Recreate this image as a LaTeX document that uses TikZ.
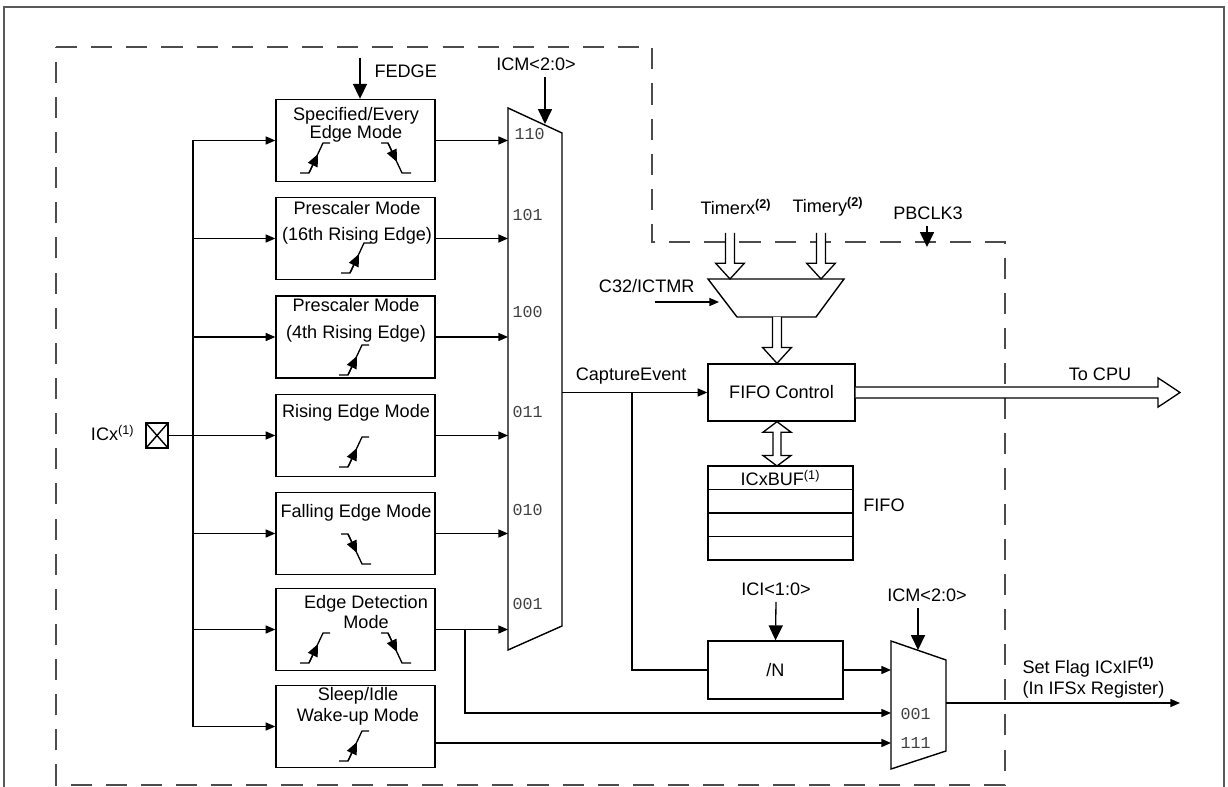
\documentclass[tikz,border=0pt]{standalone}
\usepackage{fontspec}
\setmainfont{Liberation Sans}
\setmonofont{Liberation Mono}
\usetikzlibrary{arrows.meta, positioning, calc}

% hollow bus arrows (vertical down, right, both ways)
\newcommand{\fatdown}[2]{%
  \draw[bus] let \p1=(#1), \p2=(#2) in
    (\x1-2.6pt,\y1) -- (\x1-2.6pt,\y2+9pt) -- (\x1-8.2pt,\y2+9pt) -- (\x1,\y2)
    -- (\x1+8.2pt,\y2+9pt) -- (\x1+2.6pt,\y2+9pt) -- (\x1+2.6pt,\y1);}
\newcommand{\fatright}[2]{%
  \draw[bus] let \p1=(#1), \p2=(#2) in
    (\x1,\y1+3.1pt) -- (\x2-12.5pt,\y1+3.1pt) -- (\x2-12.5pt,\y1+8.3pt) -- (\x2,\y1)
    -- (\x2-12.5pt,\y1-8.3pt) -- (\x2-12.5pt,\y1-3.1pt) -- (\x1,\y1-3.1pt);}
\newcommand{\fatboth}[2]{%
  \draw[bus] let \p1=(#1), \p2=(#2) in
    (\x1-2.3pt,\y1-6pt) -- (\x1-8pt,\y1-6pt) -- (\x1,\y1) -- (\x1+8pt,\y1-6pt)
    -- (\x1+2.3pt,\y1-6pt) -- (\x1+2.3pt,\y2+6pt) -- (\x1+8pt,\y2+6pt) -- (\x1,\y2)
    -- (\x1-8pt,\y2+6pt) -- (\x1-2.3pt,\y2+6pt) -- cycle;}

\tikzset{
  pics/upedge/.style={code={
    \draw (-16,15) -- (-7,15) -- (7,-15) -- (14,-15);
    \draw[-{Triangle[length=7pt, width=6pt]}] (-7,15) -- (2,-4);
  }},
  pics/downedge/.style={code={
    \draw (-14,-15) -- (-7,-15) -- (7,15) -- (16,15);
    \draw[-{Triangle[length=7pt, width=6pt]}] (-7,-15) -- (2,4);
  }}
}

\begin{document}
\begin{tikzpicture}[
    x=0.02cm, y=-0.02cm,
    font=\fontsize{10.3}{12}\selectfont,
    line width=0.75pt,
    sig/.style   = {-{Triangle[length=5.5pt, width=4.6pt]}},
    ctl/.style   = {-{Triangle[length=8.5pt, width=8pt]}},
    mode/.style  = {draw, line width=0.8pt, minimum width=3.18cm, minimum height=1.64cm, inner sep=0pt},
    blk/.style   = {draw, line width=0.8pt, inner sep=0pt},
    row/.style   = {blk, minimum width=2.9cm, minimum height=0.47cm, outer sep=0pt},
    bits/.style  = {font=\ttfamily\fontsize{9.5}{11}\selectfont, text=black!75, anchor=west, inner sep=0pt},
    bus/.style   = {draw, fill=white, line width=0.75pt},
    border/.style= {draw=black!70, line width=0.75pt, dash pattern=on 12pt off 8pt}
  ]

  \useasboundingbox (0,0) rectangle (1228,787);
  \draw[black!65, line width=1pt] (4,7) rectangle (1224,800);

  % --- dashed module boundary ---
  \draw[border] (56,47) -- (652,47) -- (652,242) -- (1005,242) -- (1005,785) -- (56,785) -- cycle;

  % --- mode boxes ---
  \foreach \n/\y in {1/140.5, 2/238.5, 3/337, 4/435.5, 5/533.5, 6/629.5, 7/726.5}
    \node[mode] (m\n) at (355.5,\y) {};

  \node[align=center] (t1) at (356,125)   {Specified/Every\\[-1.7pt]Edge Mode};
  \node[align=center] (t2) at (357,223)   {Prescaler Mode\\[2.8pt](16th Rising Edge)};
  \node[align=center] (t3) at (356,320.5) {Prescaler Mode\\[3.4pt](4th Rising Edge)};
  \node               (t4) at (356,413)   {Rising Edge Mode};
  \node               (t5) at (356,513)   {Falling Edge Mode};
  \node[align=center] (t6) at (366,612)   {Edge Detection\\[-0.6pt]Mode};
  \node[align=center] (t7) at (358,706.5) {Sleep/Idle\\Wake-up Mode};

  \pic at (316,158) {upedge};  \pic at (395,158) {downedge};
  \pic at (357,258) {upedge};
  \pic at (355,360) {upedge};
  \pic at (355,452) {upedge};
  \pic at (355,549) {downedge};
  \pic at (316,648) {upedge};  \pic at (395,648) {downedge};
  \pic at (355,746) {upedge};

  % --- input pin and fan-out ---
  \node[draw, line width=0.8pt, minimum width=0.44cm, minimum height=0.5cm, inner sep=0pt,
        path picture={\draw (path picture bounding box.south west) -- (path picture bounding box.north east)
                            (path picture bounding box.north west) -- (path picture bounding box.south east);}]
        (pin) at (157,435.5) {};
  \node[anchor=east] (icx) at (141,433) {ICx\textsuperscript{(1)}};
  \coordinate (bus) at (193,0);

  \draw (m1.west -| bus) -- (m7.west -| bus);
  \draw (pin.east) -- (m4.west -| bus);
  \foreach \n in {1,...,7}
    \draw[sig] (m\n.west -| bus) -- (m\n.west);

  \node[anchor=west] (fedge) at (368,71) {FEDGE};
  \coordinate (fe) at (360,58);
  \draw[ctl] (fe) -- (fe |- m1.north);

  % --- capture mode multiplexer ---
  \draw[line width=0.8pt] (508,108) -- (562,133) -- (562,626) -- (508,650) -- cycle;
  \coordinate (bigL) at (508,0);
  \coordinate (bigR) at (562,0);
  \foreach \n in {1,...,6}
    \draw[sig] (m\n.east) -- (m\n.east -| bigL);

  \node[bits] (b110) at (514,134) {110};
  \node[bits] (b101) at (512,215) {101};
  \node[bits] (b100) at (512,312) {100};
  \node[bits] (b011) at (512,412) {011};
  \node[bits] (b010) at (512,510) {010};
  \node[bits] (b001) at (512,604) {001};

  \node (icm1) at (536,64) {ICM<2:0>};
  \coordinate (sel1) at (545,124);
  \draw[ctl] (sel1 |- icm1.south) -- (sel1);

  % --- timer select and FIFO ---
  \node (tmx) at (736,207) {Timerx\textsuperscript{\textbf{(2)}}};
  \node (tmy) at (828,207) {Timery\textsuperscript{\textbf{(2)}}};
  \node (pbclk) at (928,213) {PBCLK3};
  \coordinate (clk) at (927,247);
  \draw[ctl] (clk |- pbclk.south) -- (clk);

  \draw[line width=0.8pt] (708,279) -- (844,279) -- (816,317) -- (737,317) -- cycle;
  \coordinate (tx) at (730,233);
  \coordinate (ty) at (821,233);
  \coordinate (tmtop) at (776,279);
  \coordinate (tmbot) at (777,317);
  \fatdown{tx}{tx |- tmtop}
  \fatdown{ty}{ty |- tmtop}

  \node[anchor=east] (c32) at (701,286) {C32/ICTMR};
  \coordinate (c32src) at (655,302);
  \coordinate (c32dst) at (719,302);
  \draw[sig] (c32src) -- (c32dst);

  \node[blk, minimum width=2.94cm, minimum height=1.14cm] (fifoctl) at (781.5,392.5) {FIFO Control};
  \fatdown{tmbot}{fifoctl.north}

  \node[row] (buf1) at (780.5,477.75) {ICxBUF\textsuperscript{(1)}};
  \node[row, below=0pt of buf1] (buf2) {};
  \node[row, below=0pt of buf2] (buf3) {};
  \node[row, below=0pt of buf3] (buf4) {};
  \node (fifo) at (884,505) {FIFO};
  \coordinate (fb) at (777,0);
  \fatboth{fb |- fifoctl.south}{fb |- buf1.north}

  \coordinate (cpu) at (1180,392.5);
  \fatright{fifoctl.east}{cpu}
  \node (tocpu) at (1100,374) {To CPU};

  \draw[sig] (fifoctl.west -| bigR) -- node[above=1pt, xshift=-2pt] (cev) {CaptureEvent} (fifoctl.west);

  % --- interrupt divider and flag multiplexer ---
  \node[blk, minimum width=2.7cm, minimum height=1.16cm] (divn) at (775.5,670) {/N};
  \node (ici) at (776,589) {ICI<1:0>};
  \draw[ctl] (ici.south) -- (divn.north);

  \coordinate (cap) at (632,0);
  \draw (fifoctl.west -| cap) |- (divn.west);

  \draw[line width=0.8pt] (891,641) -- (946,660) -- (946,751) -- (891,769) -- cycle;
  \coordinate (smallL) at (891,0);
  \coordinate (in001) at (891,713);
  \coordinate (in111) at (891,743);
  \node[bits] (s001) at (900,714) {001};
  \node[bits] (s111) at (900,743) {111};

  \draw[sig] (divn.east) -- (divn.east -| smallL);
  \coordinate (tap) at (465,0);
  \draw[sig] (m6.east -| tap) |- (in001);
  \draw[sig] (in111 -| m7.east) -- (in111);

  \node (icm2) at (927,595) {ICM<2:0>};
  \coordinate (sel2) at (918,650);
  \draw[ctl] (sel2 |- icm2.south) -- (sel2);

  \coordinate (muxout) at (946,703);
  \coordinate (flag) at (1180,703);
  \draw[sig] (muxout) -- (flag);
  \node[anchor=west, align=left] (flagtxt) at (1016,678)
    {Set Flag ICxIF\textsuperscript{\textbf{(1)}}\\(In IFSx Register)};

\end{tikzpicture}
\end{document}
